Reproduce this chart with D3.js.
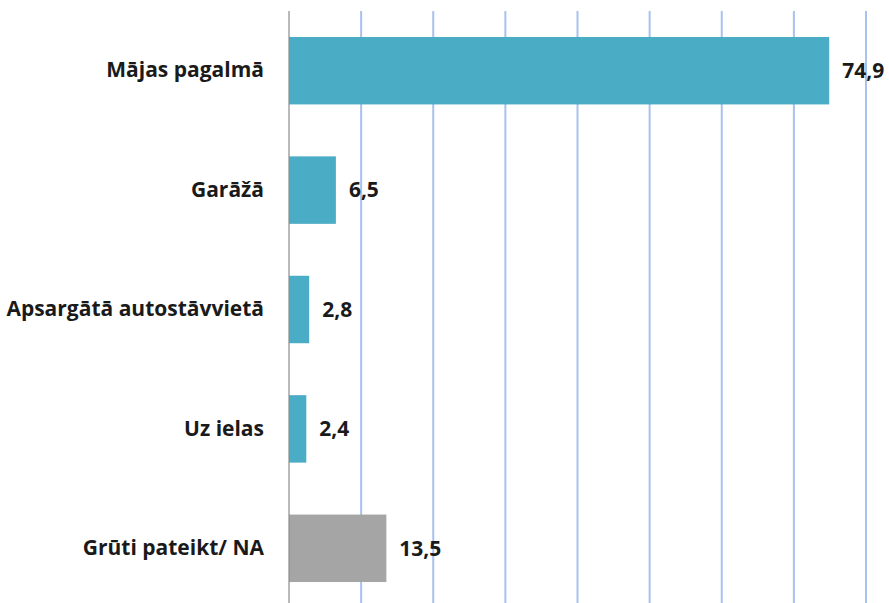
<!DOCTYPE html>
<html>
<head>
<meta charset="utf-8">
<script src="https://cdn.jsdelivr.net/npm/d3@7"></script>
<style>
  body { margin: 0; background: #fff; }
  svg { display: block; }
</style>
</head>
<body>
<svg></svg>
<script>
// categories and values (percent)
const categories = ["Mājas pagalmā", "Garāžā", "Apsargātā autostāvvietā", "Uz ielas", "Grūti pateikt/ NA"];
const values = [74.9, 6.5, 2.8, 2.4, 13.5];
const barColors = ["#4BACC6", "#4BACC6", "#4BACC6", "#4BACC6", "#A5A5A5"];
const xTicks = [0, 10, 20, 30, 40, 50, 60, 70, 80];

const svgWidth = 889, svgHeight = 603;
const font = "'Open Sans', Lato, sans-serif";
const data = categories.map((c, i) => ({ name: c, value: values[i], color: barColors[i] }));

const svg = d3.select("svg")
    .attr("width", svgWidth)
    .attr("height", svgHeight);

// scales
const x = d3.scaleLinear().domain([0, 80]).range([289, 866]);
const y = d3.scaleBand().domain(categories).range([11, 608]).paddingInner(0.435).paddingOuter(0.2175);

// vertical gridlines
svg.append("g")
    .selectAll("line")
    .data(xTicks.slice(1))
    .join("line")
    .attr("x1", d => x(d)).attr("x2", d => x(d))
    .attr("y1", 11).attr("y2", svgHeight)
    .attr("stroke", "#A8C1ED")
    .attr("stroke-width", 2);

// bars
svg.append("g")
    .selectAll("rect")
    .data(data)
    .join("rect")
    .attr("x", x(0))
    .attr("y", d => y(d.name))
    .attr("width", d => x(d.value) - x(0))
    .attr("height", y.bandwidth())
    .attr("fill", d => d.color);

// category axis
const yAxis = svg.append("g")
    .attr("transform", "translate(" + x(0) + ",0)")
    .call(d3.axisLeft(y).tickSize(0).tickPadding(25));
yAxis.select(".domain")
    .attr("stroke", "#8C8C8C")
    .attr("stroke-width", 1.2)
    .attr("d", "M0,11V" + svgHeight);
yAxis.selectAll("text")
    .attr("font-family", font)
    .attr("font-weight", "bold")
    .attr("font-size", 21)
    .attr("fill", "#1a1a1a");

// value labels
svg.append("g")
    .selectAll("text")
    .data(data)
    .join("text")
    .attr("x", d => x(d.value) + 13)
    .attr("y", d => y(d.name) + y.bandwidth() / 2)
    .attr("dy", "0.35em")
    .attr("font-family", font)
    .attr("font-weight", "bold")
    .attr("font-size", 21)
    .attr("fill", "#1a1a1a")
    .text(d => String(d.value.toFixed(1)).replace(".", ","));
</script>
</body>
</html>
